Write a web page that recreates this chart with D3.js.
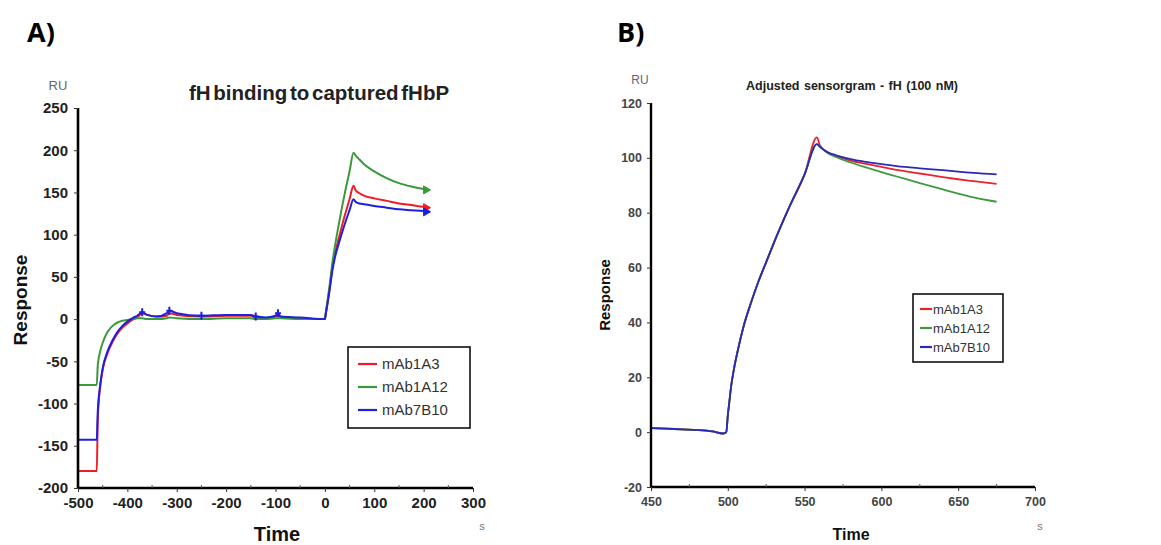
<!DOCTYPE html>
<html>
<head>
<meta charset="utf-8">
<script src="https://cdn.jsdelivr.net/npm/d3@7"></script>
<style>
  body { margin: 0; background: #fff; }
  svg { display: block; font-family: "Liberation Sans", Arial, sans-serif; }
</style>
</head>
<body>
<svg id="chart" width="1161" height="545"></svg>
<script>
// ---- Panel A: fH binding to captured fHbP ----
const seriesNames = ["mAb1A3", "mAb1A12", "mAb7B10"];
const colorsA = ["#ee1c25", "#3a9a3a", "#1f1fe0"];
const colorsB = ["#e8232d", "#3f9a3f", "#2a2ab8"];

const timeA = [-500, -462, -460, -455, -450, -440, -430, -420, -410, -400, -390, -380, -370,
  -360, -340, -320, -315, -300, -250, -200, -150, -140, -120, -100, -95, -90, -50, 0,
  2, 5, 10, 15, 20, 30, 40, 50, 58, 62, 70, 80, 100, 125, 150, 175, 200, 210];
const mAb1A3_A = [-180, -180, -120, -80, -60, -40, -27, -17, -10, -5, -1, 2, 7,
  5, 3, 4, 7, 5, 3, 4, 4, 2, 1, 3, 5, 3, 1, 0,
  7, 18, 38, 60, 76, 100, 122, 142, 158, 153, 149, 146, 143, 140, 137, 135, 133, 132];
const mAb1A12_A = [-78, -78, -55, -38, -28, -15, -8, -4, -2, -1, 0, 1, 1,
  0, 0, 1, 2, 1, 0, 1, 1, 0, 0, 1, 1, 1, 0, 0,
  8, 20, 42, 66, 85, 118, 148, 175, 197, 194, 189, 183, 175, 167, 161, 157, 154, 153];
const mAb7B10_A = [-143, -143, -110, -78, -58, -38, -25, -15, -8, -3, 1, 4, 8,
  5, 3, 7, 10, 7, 4, 5, 5, 3, 2, 4, 7, 3, 2, 0,
  7, 17, 36, 57, 72, 93, 112, 129, 142, 139, 137, 136, 134, 132, 130, 129, 128, 127];
const ticksAX = [-500, -400, -300, -200, -100, 0, 100, 200, 300];
const ticksAY = [-200, -150, -100, -50, 0, 50, 100, 150, 200, 250];
// injection marks drawn on the baseline
const markTimesA = [-370, -315, -250, -140, -95];

// ---- Panel B: adjusted sensorgram, fH (100 nM) ----
const timeB = [450, 460, 470, 480, 490, 497, 499, 500, 501, 502, 504, 507, 510, 515, 520, 525, 530,
  540, 550, 558, 560, 565, 570, 580, 590, 600, 610, 625, 640, 650, 660, 675];
const mAb1A3_B = [1.5, 1.3, 1.0, 0.8, 0.3, -0.5, 0, 6, 11, 16, 23, 31, 38, 47, 55, 62, 69,
  82, 94, 107.5, 104.5, 102, 100.8, 99, 97.8, 96.7, 95.6, 94.3, 93, 92.2, 91.5, 90.5];
const mAb1A12_B = [1.5, 1.3, 1.0, 0.8, 0.3, -0.5, 0, 6, 11, 16, 23, 31, 38, 47, 55, 62, 69,
  82, 94, 105, 104, 101.8, 100.4, 98.3, 96.5, 94.8, 93.2, 90.8, 88.5, 87, 85.6, 84];
const mAb7B10_B = [1.5, 1.3, 1.0, 0.8, 0.3, -0.5, 0, 6, 11, 16, 23, 31, 38, 47, 55, 62, 69,
  82, 94, 105, 104, 102, 101, 99.5, 98.5, 97.7, 97, 96.2, 95.5, 95, 94.5, 94];
const ticksBX = [450, 500, 550, 600, 650, 700];
const ticksBY = [-20, 0, 20, 40, 60, 80, 100, 120];

const svg = d3.select("#chart");

function drawPanel(cfg) {
  const g = svg.append("g");
  const x = d3.scaleLinear().domain(cfg.xDomain).range(cfg.xRange);
  const y = d3.scaleLinear().domain(cfg.yDomain).range(cfg.yRange);

  // series
  const line = d3.line().x(d => x(d[0])).y(d => y(d[1])).curve(d3.curveMonotoneX);
  cfg.series.forEach((vals, i) => {
    const pts = cfg.time.map((t, k) => [t, vals[k]]);
    g.append("path").datum(pts)
      .attr("d", line)
      .attr("fill", "none")
      .attr("stroke", cfg.colors[i])
      .attr("stroke-width", cfg.lineWidth)
      .attr("stroke-linejoin", "round");
  });

  // axes (plain hyphen for negative numbers)
  const fmt = d => String(d);
  const xAxis = d3.axisBottom(x).tickValues(cfg.xTicks).tickSize(4).tickPadding(cfg.xPad).tickFormat(fmt);
  const yAxis = d3.axisLeft(y).tickValues(cfg.yTicks).tickSize(4).tickPadding(cfg.yPad).tickFormat(fmt);
  const gx = g.append("g").attr("transform", `translate(0,${cfg.yRange[0]})`).call(xAxis);
  const gy = g.append("g").attr("transform", `translate(${cfg.xRange[0]},0)`).call(yAxis);
  [gx, gy].forEach(ax => {
    ax.select(".domain").attr("stroke", "#000").attr("stroke-width", cfg.axisWidth);
    ax.selectAll(".tick line").attr("stroke", "#333").attr("stroke-width", 1);
    ax.selectAll(".tick text")
      .attr("font-size", cfg.tickFont)
      .attr("font-weight", "bold")
      .attr("fill", cfg.tickColor);
  });
  gx.select(".domain").attr("d", `M${cfg.xRange[0]},0H${cfg.xRange[1]}`);
  gy.select(".domain").attr("d", `M0,${cfg.yRange[0]}V${cfg.yRange[1]}`);

  // minor ticks midway between labelled ticks, pointing inward
  const minorX = d3.pairs(cfg.xTicks).map(p => (p[0] + p[1]) / 2);
  g.append("g").selectAll("line").data(minorX).join("line")
    .attr("x1", d => x(d)).attr("x2", d => x(d))
    .attr("y1", cfg.yRange[0]).attr("y2", cfg.yRange[0] - 3)
    .attr("stroke", "#555");

  // unit labels
  g.append("text").attr("x", cfg.ruX).attr("y", cfg.ruY)
    .attr("text-anchor", "middle").attr("font-size", cfg.ruFont).attr("fill", "#666").text("RU");
  g.append("text").attr("x", cfg.sX).attr("y", cfg.sY)
    .attr("text-anchor", "middle").attr("font-size", 11).attr("fill", "#777").text("s");

  // title
  g.append("text").attr("x", cfg.titleX).attr("y", cfg.titleY)
    .attr("text-anchor", "middle").attr("font-size", cfg.titleFont).attr("font-weight", "bold")
    .attr("word-spacing", cfg.titleWordSpacing)
    .attr("fill", "#222").text(cfg.title);

  // axis titles
  g.append("text").attr("x", cfg.timeX).attr("y", cfg.timeY)
    .attr("text-anchor", "middle").attr("font-size", cfg.timeFont).attr("font-weight", "bold")
    .attr("fill", "#111").text("Time");
  g.append("text")
    .attr("transform", `translate(${cfg.respX},${cfg.respY}) rotate(-90)`)
    .attr("text-anchor", "middle").attr("font-size", cfg.respFont).attr("font-weight", "bold")
    .attr("fill", "#111").text("Response");

  // panel letter
  g.append("text").attr("x", cfg.letterX).attr("y", 42)
    .attr("font-family", "'Open Sans', 'Noto Sans', sans-serif")
    .attr("font-size", 27).attr("font-weight", "bold").attr("fill", "#000").text(cfg.letter);

  // legend
  const L = cfg.legend;
  g.append("rect").attr("x", L.x).attr("y", L.y).attr("width", L.w).attr("height", L.h)
    .attr("fill", "#fff").attr("stroke", "#111").attr("stroke-width", 1.6);
  seriesNames.forEach((name, i) => {
    const yy = L.y + L.first + i * L.step;
    g.append("line").attr("x1", L.x + L.s1).attr("x2", L.x + L.s2)
      .attr("y1", yy).attr("y2", yy)
      .attr("stroke", cfg.colors[i]).attr("stroke-width", 2.2);
    g.append("text").attr("x", L.x + L.tx).attr("y", yy + L.font * 0.36)
      .attr("font-size", L.font).attr("fill", "#333").text(name);
  });

  return { g, x, y };
}

// Panel A
const pA = drawPanel({
  xDomain: [-500, 300], xRange: [78, 473],
  yDomain: [-200, 250], yRange: [488, 108],
  time: timeA, series: [mAb1A3_A, mAb1A12_A, mAb7B10_A], colors: colorsA,
  lineWidth: 2, axisWidth: 2.6,
  xTicks: ticksAX, yTicks: ticksAY, tickFont: 15, tickColor: "#222", xPad: 5, yPad: 6,
  ruX: 58, ruY: 90, ruFont: 13,
  sX: 482, sY: 530,
  title: "fH binding to captured fHbP", titleX: 319, titleY: 100, titleFont: 20.5, titleWordSpacing: -3,
  timeX: 277, timeY: 541, timeFont: 20,
  respX: 27, respY: 300, respFont: 19,
  letter: "A)", letterX: 27,
  legend: { x: 348, y: 347, w: 122, h: 81, first: 17, step: 23, s1: 10, s2: 29, tx: 34, font: 15 }
});

// small cross marks on panel A baseline and arrow marks at the end of each trace
pA.g.append("g").selectAll("path").data(markTimesA).join("path")
  .attr("d", d => {
    const cx = pA.x(d), cy = pA.y(mAb7B10_A[timeA.indexOf(d)] ?? 5);
    return `M${cx - 3},${cy}H${cx + 3}M${cx},${cy - 4}V${cy + 4}`;
  })
  .attr("stroke", colorsA[2]).attr("stroke-width", 2);
[mAb1A3_A, mAb1A12_A, mAb7B10_A].forEach((vals, i) => {
  const cx = pA.x(timeA[timeA.length - 1]), cy = pA.y(vals[vals.length - 1]);
  pA.g.append("path")
    .attr("d", `M${cx - 5},${cy - 4}L${cx + 2},${cy}L${cx - 5},${cy + 4}Z`)
    .attr("fill", colorsA[i]).attr("stroke", colorsA[i]).attr("stroke-width", 1);
});

// Panel B
drawPanel({
  xDomain: [450, 700], xRange: [651, 1035],
  yDomain: [-20, 120], yRange: [487, 103],
  time: timeB, series: [mAb1A3_B, mAb1A12_B, mAb7B10_B], colors: colorsB,
  lineWidth: 1.8, axisWidth: 2.4,
  xTicks: ticksBX, yTicks: ticksBY, tickFont: 12.5, tickColor: "#444", xPad: 6, yPad: 5,
  ruX: 640, ruY: 84, ruFont: 12,
  sX: 1040, sY: 530,
  title: "Adjusted sensorgram - fH (100 nM)", titleX: 852, titleY: 90, titleFont: 12.5, titleWordSpacing: 1,
  timeX: 851, timeY: 540, timeFont: 16,
  respX: 610, respY: 295, respFont: 15,
  letter: "B)", letterX: 617,
  legend: { x: 913, y: 294, w: 90, h: 68, first: 15, step: 19, s1: 7, s2: 19, tx: 20, font: 13 }
});
</script>
</body>
</html>
